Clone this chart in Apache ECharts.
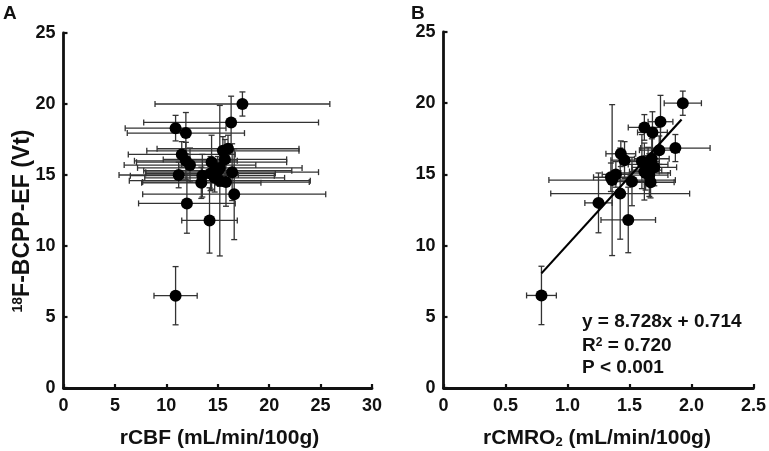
<!DOCTYPE html>
<html><head><meta charset="utf-8">
<script src="https://cdn.jsdelivr.net/npm/echarts@6/dist/echarts.min.js"></script>
<style>html,body{margin:0;padding:0;background:#fff}#c{width:769px;height:451px}</style>
</head><body><div id="c"></div>
<script>
// Shared subject values (Vt) with SD
const subjY   = [20.0,18.7,18.3,17.95,16.85,16.7,16.45,16.0,15.9,15.7,15.5,15.2,15.0,14.95,15.1,14.45,14.6,14.5,14.8,13.65,13.0,11.8,6.5,15.3,16.1];
const subjYSd = [0.85,1.85,0.9,1.45,0.95,1.0,0.9,1.3,1.9,1.2,1.3,2.0,0.9,1.5,1.2,1.1,5.3,1.7,1.0,3.2,2.1,2.3,2.05,1.0,1.4];
// Panel A: rCBF
const rcbf    = [17.4,16.3,10.9,11.9,16.0,15.5,11.5,11.9,14.4,12.3,15.2,16.4,11.2,13.5,14.3,13.4,15.2,15.8,14.7,16.6,12.0,14.2,10.9,15.0,15.7];
const rcbfSd  = [8.5,8.5,4.9,5.7,6.9,7.4,5.2,5.0,7.3,6.4,8.0,8.4,5.8,7.0,6.3,5.8,8.8,8.1,6.8,8.9,4.7,2.7,2.1,7.2,6.0];
// Panel B: rCMRO2
const rcmro2   = [1.93,1.75,1.62,1.685,1.87,1.74,1.43,1.46,1.60,1.65,1.70,1.62,1.39,1.66,1.63,1.67,1.36,1.52,1.35,1.425,1.25,1.49,0.79,1.64,1.68];
const rcmro2Sd = [0.15,0.10,0.13,0.12,0.28,0.16,0.12,0.11,0.14,0.16,0.18,0.12,0.11,0.15,0.20,0.19,0.51,0.13,0.14,0.56,0.11,0.22,0.12,0.12,0.14];
// Regression line endpoints as drawn
const fitLine = [[0.79, 8.05],[1.92, 18.85]];
// Tick labels
const xTicksA = ['0','5','10','15','20','25','30'];
const xTicksB = ['0','0.5','1.0','1.5','2.0','2.5'];
const yTicks  = ['0','5','10','15','20','25'];

const FONT = '"Liberation Sans", Arial, sans-serif';
const INK = '#111';
const dataA = rcbf.map((x,i)=>[x, subjY[i], rcbfSd[i], subjYSd[i]]);
const dataB = rcmro2.map((x,i)=>[x, subjY[i], rcmro2Sd[i], subjYSd[i]]);

function errRender(params, api){
  const x = api.value(0), y = api.value(1), sx = api.value(2), sy = api.value(3);
  const l = api.coord([x - sx, y]), r = api.coord([x + sx, y]);
  const t = api.coord([x, y + sy]), b = api.coord([x, y - sy]);
  const cap = 3;
  const st = {stroke:'#333', lineWidth:1.3};
  const line = (x1,y1,x2,y2)=>({type:'line', shape:{x1,y1,x2,y2}, style:st});
  return {type:'group', children:[
    line(l[0],l[1],r[0],r[1]),
    line(l[0],l[1]-cap,l[0],l[1]+cap),
    line(r[0],r[1]-cap,r[0],r[1]+cap),
    line(t[0],t[1],b[0],b[1]),
    line(t[0]-cap,t[1],t[0]+cap,t[1]),
    line(b[0]-cap,b[1],b[0]+cap,b[1])
  ]};
}

const axisCommon = {
  axisLine:{show:true, onZero:false, lineStyle:{color:INK, width:2.8}},
  axisTick:{show:true, inside:true, length:4, lineStyle:{color:INK, width:2.2}},
  splitLine:{show:false},
  axisLabel:{color:INK, fontFamily:FONT, fontWeight:'bold', fontSize:18, margin:9}
};
function yAxis(gi){
  return Object.assign({}, axisCommon, {
    type:'value', gridIndex:gi, min:0, max:25, interval:5,
    axisLabel:Object.assign({}, axisCommon.axisLabel, {margin:8, formatter:(v)=>yTicks[Math.round(v/5)]})
  });
}

const chart = echarts.init(document.getElementById('c'), null, {renderer:'canvas'});
chart.setOption({
  backgroundColor:'#fff',
  animation:false,
  grid:[
    {left:63.5, top:33, width:308.5, height:355},
    {left:443.5, top:32, width:312.5, height:356}
  ],
  xAxis:[
    Object.assign({}, axisCommon, {type:'value', gridIndex:0, min:0, max:30, interval:5,
      axisLabel:Object.assign({}, axisCommon.axisLabel, {formatter:(v)=>xTicksA[Math.round(v/5)]})}),
    Object.assign({}, axisCommon, {type:'value', gridIndex:1, min:0, max:2.5, interval:0.5,
      axisLabel:Object.assign({}, axisCommon.axisLabel, {formatter:(v)=>xTicksB[Math.round(v/0.5)]})})
  ],
  yAxis:[yAxis(0), yAxis(1)],
  series:[
    {type:'custom', xAxisIndex:0, yAxisIndex:0, data:dataA, renderItem:errRender, encode:{x:0,y:1}, z:2},
    {type:'scatter', xAxisIndex:0, yAxisIndex:0, data:dataA.map(d=>[d[0],d[1]]), symbolSize:12, itemStyle:{color:'#000', opacity:1}, z:3},
    {type:'custom', xAxisIndex:1, yAxisIndex:1, data:dataB, renderItem:errRender, encode:{x:0,y:1}, z:2},
    {type:'line', xAxisIndex:1, yAxisIndex:1, data:fitLine, symbol:'none', lineStyle:{color:'#000', width:2.2}, z:4},
    {type:'scatter', xAxisIndex:1, yAxisIndex:1, data:dataB.map(d=>[d[0],d[1]]), symbolSize:12, itemStyle:{color:'#000', opacity:1}, z:3}
  ],
  graphic:[
    {type:'text', x:3, y:4, style:{text:'A', font:'bold 19px '+FONT, fill:INK}},
    {type:'text', x:411, y:4, style:{text:'B', font:'bold 19px '+FONT, fill:INK}},
    {type:'text', x:23, y:221, rotation:Math.PI/2,
      style:{text:'{sup|18}F-BCPP-EF (Vt)', font:'bold 23px '+FONT, fill:INK, align:'center', verticalAlign:'middle',
        rich:{sup:{fontSize:14, fontWeight:'bold', fontFamily:FONT, fill:INK, verticalAlign:'top'}}}},
    {type:'text', x:219.5, y:438,
      style:{text:'rCBF (mL/min/100g)', font:'bold 21px '+FONT, fill:INK, align:'center', verticalAlign:'middle'}},
    {type:'text', x:597, y:438,
      style:{text:'rCMRO{sub|2} (mL/min/100g)', font:'bold 21px '+FONT, fill:INK, align:'center', verticalAlign:'middle',
        rich:{sub:{fontSize:13, fontWeight:'bold', fontFamily:FONT, fill:INK, verticalAlign:'bottom'}}}},
    {type:'text', x:582, y:322, style:{text:'y = 8.728x + 0.714', font:'bold 19px '+FONT, fill:INK, verticalAlign:'middle'}},
    {type:'text', x:582, y:346, style:{text:'R{sup|2} = 0.720', font:'bold 19px '+FONT, fill:INK, verticalAlign:'middle',
      rich:{sup:{fontSize:12, fontWeight:'bold', fontFamily:FONT, fill:INK, verticalAlign:'top'}}}},
    {type:'text', x:582, y:368, style:{text:'P < 0.001', font:'bold 19px '+FONT, fill:INK, verticalAlign:'middle'}}
  ]
});
</script></body></html>
